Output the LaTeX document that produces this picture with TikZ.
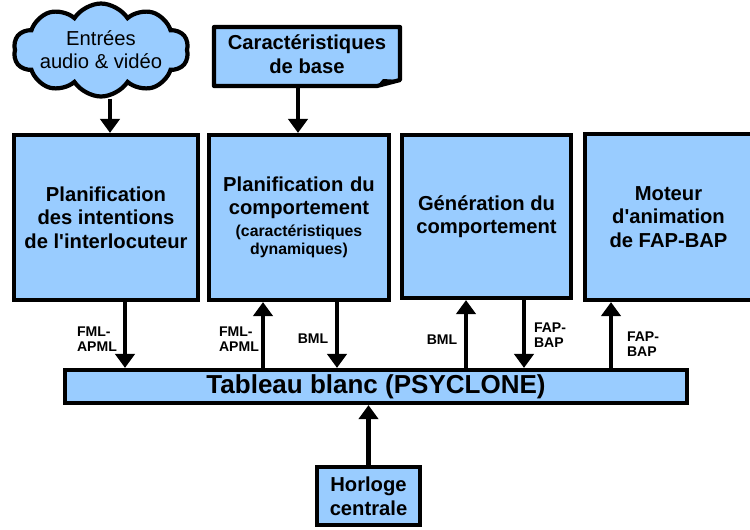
\documentclass[tikz,border=0pt]{standalone}
\usepackage{fontspec}
\setmainfont{Liberation Sans}
\usetikzlibrary{arrows.meta,shapes.symbols}

\definecolor{bleuclair}{HTML}{99CCFF}

\tikzset{
  bloc/.style={draw,line width=2.4pt,fill=bleuclair,align=center,inner sep=0pt,
    font=\bfseries\fontsize{11.5}{13.4}\selectfont},
  fleche/.style={line width=2.6pt,-{Triangle[length=8pt,width=11pt]}},
  etiq/.style={align=left,inner sep=0pt,font=\bfseries\fontsize{8}{8.6}\selectfont}
}

\begin{document}
\begin{tikzpicture}[x=0.02cm,y=-0.02cm]
\useasboundingbox (0,0) rectangle (750,529);

% entrees du haut
\node[cloud,draw,line width=2.4pt,fill=bleuclair,cloud puffs=10,cloud puff arc=115,
  cloud ignores aspect,inner xsep=-14pt,inner ysep=-9pt,
  minimum width=3.5cm,minimum height=1.86cm,align=center,
  font=\fontsize{11.5}{13}\selectfont] (entrees) at (101,50) {Entrées\\audio \& vidéo};

\draw[line width=2.4pt,fill=bleuclair,line join=round]
  (214,27) -- (400,27) -- (400,80) -- (377,86) -- (214,86) -- cycle;
\fill (377,86) -- (383,79) -- (400,80) -- cycle;
\node[align=center,inner sep=0pt,font=\bfseries\fontsize{11.5}{13.4}\selectfont]
  (carac) at (307,54) {Caractéristiques\\de base};
\coordinate (docbas) at (298,87);

% les quatre modules
\node[bloc,minimum width=3.68cm,minimum height=3.3cm] (interloc) at (106,217.5)
  {Planification\\des intentions\\de l\textquotesingle interlocuteur};
\node[bloc,minimum width=3.6cm,minimum height=3.3cm,text width=3.5cm] (planif) at (299,217.5)
  {Planification du\\comportement\par\vspace{2pt}%
   {\fontsize{9}{10.4}\selectfont (caractéristiques\\dynamiques)\par}};
\node[bloc,minimum width=3.38cm,minimum height=3.26cm] (genera) at (486.5,216.5)
  {Génération du\\comportement};
\node[bloc,minimum width=3.34cm,minimum height=3.32cm] (moteur) at (668.5,217)
  {Moteur\\d\textquotesingle animation\\de FAP-BAP};

% tableau et horloge
\node[bloc,minimum width=12.44cm,minimum height=0.66cm,
  font=\bfseries\fontsize{14.8}{17}\selectfont] (tableau) at (376,386.5)
  {Tableau blanc (PSYCLONE)};
\node[bloc,minimum width=2.06cm,minimum height=1.16cm] (horloge) at (368.5,496)
  {Horloge\\centrale};

\coordinate (x0) at (110,0);
\coordinate (x1) at (125,0);
\coordinate (x2) at (263,0);
\coordinate (x3) at (337,0);
\coordinate (x4) at (466,0);
\coordinate (x5) at (524,0);
\coordinate (x6) at (611,0);

\draw[fleche] (entrees.south -| x0) -- (interloc.north -| x0);
\draw[fleche] (docbas) -- (planif.north -| docbas);

\draw[fleche] (interloc.south -| x1) -- (tableau.north -| x1);
\draw[fleche] (tableau.north -| x2) -- (planif.south -| x2);
\draw[fleche] (planif.south -| x3) -- (tableau.north -| x3);
\draw[fleche] (tableau.north -| x4) -- (genera.south -| x4);
\draw[fleche] (genera.south -| x5) -- (tableau.north -| x5);
\draw[fleche] (tableau.north -| x6) -- (moteur.south -| x6);

\draw[fleche] (horloge.north) -- (tableau.south -| horloge.north);

% etiquettes
\node[etiq] (l1) at (97,339) {FML-\\APML};
\node[etiq] (l2) at (239,339) {FML-\\APML};
\node[etiq] (l3) at (313,339) {BML};
\node[etiq] (l4) at (442,340) {BML};
\node[etiq] (l5) at (550,335) {FAP-\\BAP};
\node[etiq] (l6) at (643,344) {FAP-\\BAP};

\end{tikzpicture}
\end{document}
